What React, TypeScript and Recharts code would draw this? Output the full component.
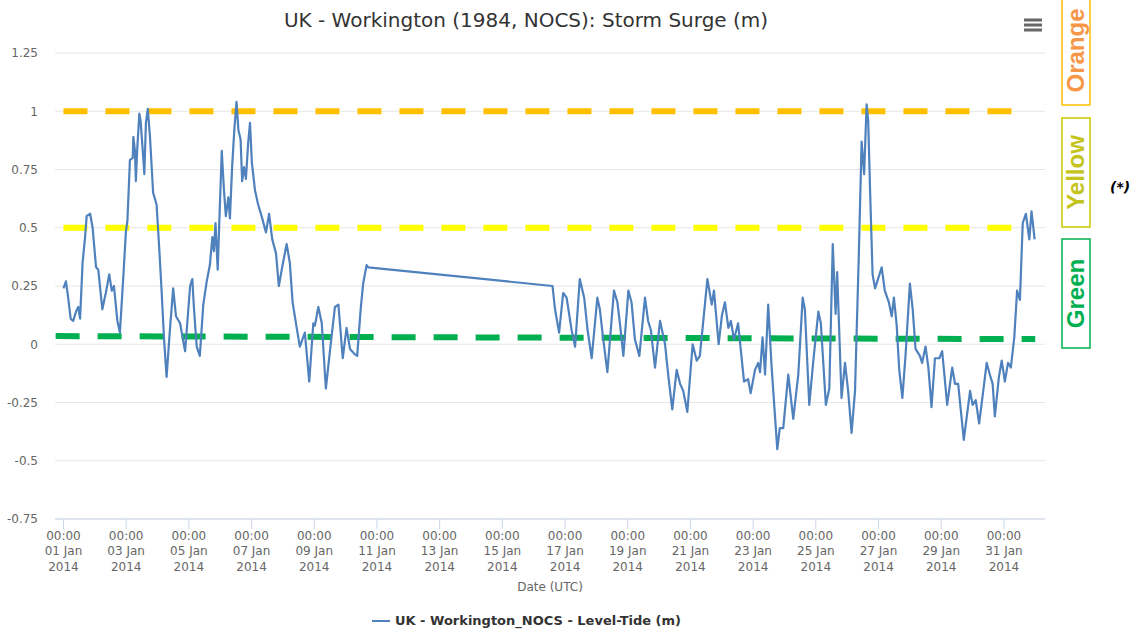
import React from 'react';
import { LineChart, Line, XAxis, YAxis, CartesianGrid, Legend } from 'recharts';

// storm surge, days since 01 Jan 2014 00:00 UTC
const surgeDays = [
  0.0, 0.08, 0.15, 0.23, 0.31, 0.4, 0.47, 0.53, 0.61, 0.69, 0.74, 0.85, 0.93, 1.04, 1.11, 1.24, 1.35, 1.46, 1.54, 1.61,
  1.72, 1.8, 1.91, 1.99, 2.04, 2.12, 2.21, 2.23, 2.28, 2.31, 2.35, 2.42, 2.46, 2.53, 2.58, 2.63, 2.69, 2.76, 2.86, 2.97,
  3.06, 3.13, 3.21, 3.29, 3.4, 3.5, 3.59, 3.72, 3.88, 4.04, 4.11, 4.16, 4.25, 4.35, 4.46, 4.57, 4.67, 4.75, 4.8, 4.85,
  4.92, 4.97, 5.05, 5.12, 5.18, 5.26, 5.31, 5.38, 5.45, 5.52, 5.58, 5.65, 5.7, 5.76, 5.82, 5.89, 5.95, 6.01, 6.11, 6.21,
  6.32, 6.46, 6.56, 6.66, 6.78, 6.87, 6.99, 7.12, 7.22, 7.31, 7.44, 7.54, 7.7, 7.84, 7.97, 8.02, 8.13, 8.24, 8.37, 8.5,
  8.66, 8.77, 8.91, 9.03, 9.14, 9.27, 9.37, 9.48, 9.56, 9.67, 9.72,
  15.6, 15.68, 15.81, 15.94, 16.05, 16.21, 16.32, 16.47, 16.61, 16.72, 16.85, 17.03, 17.11, 17.22, 17.35, 17.56, 17.67,
  17.75, 17.86, 18.02, 18.12, 18.23, 18.37, 18.55, 18.65, 18.74, 18.87, 19.03, 19.19, 19.29, 19.42, 19.56, 19.67, 19.77,
  19.9, 20.07, 20.2, 20.3, 20.41, 20.54, 20.68, 20.75, 20.9, 21.0, 21.1, 21.21, 21.29, 21.39, 21.52, 21.71, 21.84, 21.92,
  22.06, 22.16, 22.22, 22.3, 22.38, 22.48, 22.59, 22.77, 22.85, 22.96, 23.12, 23.28, 23.44, 23.58, 23.65, 23.79, 23.92,
  24.08, 24.16, 24.32, 24.43, 24.54, 24.63, 24.68, 24.82, 24.93, 25.03, 25.14, 25.25, 25.37, 25.46, 25.54, 25.62, 25.67,
  25.73, 25.81, 25.89, 25.96, 26.1, 26.2, 26.33, 26.42, 26.49, 26.58, 26.66, 26.76, 26.86, 27.0, 27.09, 27.18, 27.32,
  27.39, 27.5, 27.59, 27.69, 27.8, 27.94, 28.03, 28.19, 28.35, 28.44, 28.54, 28.72, 28.92, 29.0, 29.1, 29.21, 29.34,
  29.45, 29.55, 29.64, 29.71, 29.84, 29.93, 30.03, 30.13, 30.22, 30.33, 30.42, 30.51, 30.6, 30.7, 30.81, 30.88, 30.98,
];
const surgeValues = [
  0.24, 0.27, 0.2, 0.11, 0.1, 0.14, 0.16, 0.11, 0.35, 0.46, 0.55, 0.56, 0.5, 0.33, 0.32, 0.15, 0.22, 0.3, 0.23, 0.25,
  0.1, 0.05, 0.29, 0.48, 0.53, 0.79, 0.8, 0.89, 0.83, 0.7, 0.83, 0.99, 0.96, 0.83, 0.73, 0.95, 1.01, 0.89, 0.65, 0.6,
  0.4, 0.23, 0.02, -0.14, 0.07, 0.24, 0.12, 0.09, -0.03, 0.25, 0.28, 0.16, -0.01, -0.05, 0.17, 0.27, 0.34, 0.46, 0.4, 0.52,
  0.32, 0.52, 0.83, 0.66, 0.55, 0.63, 0.54, 0.76, 0.92, 1.04, 0.92, 0.88, 0.7, 0.76, 0.71, 0.86, 0.95, 0.78, 0.66, 0.6,
  0.55, 0.48, 0.56, 0.45, 0.39, 0.25, 0.34, 0.43, 0.35, 0.18, 0.07, -0.01, 0.05, -0.16, 0.09, 0.08, 0.16, 0.09, -0.19, -0.03,
  0.16, 0.17, -0.06, 0.07, -0.02, -0.04, -0.05, 0.15, 0.26, 0.34, 0.33,
  0.25, 0.15, 0.05, 0.22, 0.2, 0.06, -0.01, 0.28, 0.2, 0.06, -0.06, 0.2, 0.15, 0.02, -0.12, 0.23, 0.18,
  0.09, -0.05, 0.23, 0.18, 0.02, -0.05, 0.2, 0.1, 0.06, -0.1, 0.1, 0.0, -0.13, -0.28, -0.11, -0.17, -0.2,
  -0.29, 0.0, -0.07, -0.05, 0.1, 0.28, 0.17, 0.23, 0.0, 0.12, 0.18, 0.07, 0.1, 0.02, 0.09, -0.16, -0.15, -0.21,
  -0.11, -0.08, -0.12, 0.03, -0.13, 0.17, -0.1, -0.45, -0.36, -0.36, -0.13, -0.32, -0.13, 0.2, 0.15, -0.26, -0.07,
  0.14, 0.09, -0.26, -0.19, 0.43, 0.13, 0.31, -0.23, -0.08, -0.2, -0.38, -0.2, 0.38, 0.87, 0.73, 1.03, 0.96,
  0.66, 0.3, 0.24, 0.27, 0.33, 0.23, 0.18, 0.12, 0.2, 0.08, -0.11, -0.23, -0.05, 0.26, 0.15, -0.02, -0.05,
  -0.08, -0.01, -0.1, -0.27, -0.06, -0.06, -0.03, -0.26, -0.1, -0.17, -0.17, -0.41, -0.2, -0.26, -0.24, -0.34, -0.2,
  -0.08, -0.13, -0.17, -0.31, -0.14, -0.07, -0.16, -0.08, -0.1, 0.03, 0.23, 0.19, 0.52, 0.56, 0.45, 0.57, 0.45,
];

// warning thresholds
const orangeDays = [0, 30.5];
const orangeValues = [1, 1];
const yellowDays = [0, 30.5];
const yellowValues = [0.5, 0.5];
const greenDays = [-0.25, 31];
const greenValues = [0.035, 0.022];

const xTicks = [0, 2, 4, 6, 8, 10, 12, 14, 16, 18, 20, 22, 24, 26, 28, 30];
const xTickDates = ['01 Jan', '03 Jan', '05 Jan', '07 Jan', '09 Jan', '11 Jan', '13 Jan', '15 Jan',
  '17 Jan', '19 Jan', '21 Jan', '23 Jan', '25 Jan', '27 Jan', '29 Jan', '31 Jan'];
const yTicks = [-0.75, -0.5, -0.25, 0, 0.25, 0.5, 0.75, 1, 1.25];

const FONT = '"DejaVu Sans", Verdana, sans-serif';
const LINE_BLUE = '#4f81bd';

const pair = (days: number[], vals: number[]) => days.map((d, i) => ({ d, v: vals[i] }));
const surge = pair(surgeDays, surgeValues);
const orange = pair(orangeDays, orangeValues);
const yellow = pair(yellowDays, yellowValues);
const green = pair(greenDays, greenValues);

const DateTick = ({ x, y, payload }: any) => {
  const i = xTicks.indexOf(payload.value);
  return (
    <text x={x} y={y} textAnchor="middle" fill="#666" fontSize={12} fontFamily={FONT}>
      <tspan x={x} dy={8.5}>00:00</tspan>
      <tspan x={x} dy={15.5}>{xTickDates[i]}</tspan>
      <tspan x={x} dy={15.5}>2014</tspan>
    </text>
  );
};

const LegendContent = () => (
  <div style={{ display: 'flex', justifyContent: 'center', alignItems: 'center', fontFamily: FONT }}>
    <svg width={20} height={12} style={{ marginRight: 4 }}>
      <line x1={1} y1={6} x2={19} y2={6} stroke={LINE_BLUE} strokeWidth={2} />
    </svg>
    <span style={{ fontSize: 13, fontWeight: 'bold', color: '#333' }}>UK - Workington_NOCS - Level-Tide (m)</span>
  </div>
);

const boxes = [
  { label: 'Orange', top: -4, border: '#ffc000', text: '#f79646' },
  { label: 'Yellow', top: 118, border: '#c8c800', text: '#c4c41c' },
  { label: 'Green', top: 239, border: '#00b050', text: '#00b050' },
];

export default function App() {
  return (
    <div style={{ position: 'absolute', left: 0, top: 0, width: 1136, height: 632, background: '#fff' }}>
      <LineChart
        width={1052}
        height={632}
        margin={{ top: 53, right: 7, bottom: 38, left: 0 }}
        style={{ position: 'absolute', left: 0, top: 0 }}
      >
        <CartesianGrid vertical={false} stroke="#e6e6e6" />
        <XAxis
          dataKey="d"
          type="number"
          domain={[-0.27, 31.31]}
          allowDataOverflow
          ticks={xTicks}
          tick={<DateTick />}
          height={75}
          tickSize={10}
          stroke="#ccd6eb"
          tickLine={{ stroke: '#ccd6eb' }}
          axisLine={{ stroke: '#ccd6eb' }}
          label={{ value: 'Date (UTC)', position: 'insideBottom', offset: 3.5, fill: '#666', fontSize: 12, fontFamily: FONT }}
        />
        <YAxis
          type="number"
          domain={[-0.75, 1.25]}
          ticks={yTicks}
          width={55}
          axisLine={false}
          tickLine={false}
          tickSize={0}
          tickMargin={17}
          tick={{ fill: '#666', fontSize: 12, fontFamily: FONT }}
        />
        <Line data={orange} dataKey="v" stroke="#ffc000" strokeWidth={6} strokeDasharray="24 18" dot={false} activeDot={false} isAnimationActive={false} legendType="none" />
        <Line data={yellow} dataKey="v" stroke="#ffff00" strokeWidth={6} strokeDasharray="24 18" dot={false} activeDot={false} isAnimationActive={false} legendType="none" />
        <Line data={green} dataKey="v" stroke="#00b050" strokeWidth={6} strokeDasharray="24 18" dot={false} activeDot={false} isAnimationActive={false} legendType="none" />
        <Line data={surge} dataKey="v" name="UK - Workington_NOCS - Level-Tide (m)" stroke={LINE_BLUE} strokeWidth={2.2} dot={false} activeDot={false} isAnimationActive={false} strokeLinejoin="round" />
        <Legend
          layout="horizontal"
          verticalAlign="middle"
          align="center"
          content={<LegendContent />}
          wrapperStyle={{ top: 613, left: 0, width: 1052 }}
        />
      </LineChart>

      <svg width={1136} height={632} style={{ position: 'absolute', left: 0, top: 0, pointerEvents: 'none' }}>
        <text x={526} y={27} textAnchor="middle" fontSize={20} fill="#333" fontFamily={FONT}>
          UK - Workington (1984, NOCS): Storm Surge (m)
        </text>
        <g stroke="#666" strokeWidth={3}>
          <line x1={1024} y1={20} x2={1042} y2={20} />
          <line x1={1024} y1={25} x2={1042} y2={25} />
          <line x1={1024} y1={30} x2={1042} y2={30} />
        </g>
        {boxes.map((b) => (
          <g key={b.label}>
            <rect x={1062} y={b.top} width={28} height={109} fill="none" stroke={b.border} strokeWidth={1.5} />
            <text
              transform={`translate(1076, ${b.top + 54.5}) rotate(-90)`}
              textAnchor="middle"
              dy="0.35em"
              fontSize={24}
              fontWeight="bold"
              fill={b.text}
              fontFamily='"Liberation Sans", Arial, sans-serif'
            >
              {b.label}
            </text>
          </g>
        ))}
        <text x={1110} y={192} fontSize={14} fontWeight="bold" fontStyle="italic" fill="#000" fontFamily={FONT}>
          (*)
        </text>
      </svg>
    </div>
  );
}
